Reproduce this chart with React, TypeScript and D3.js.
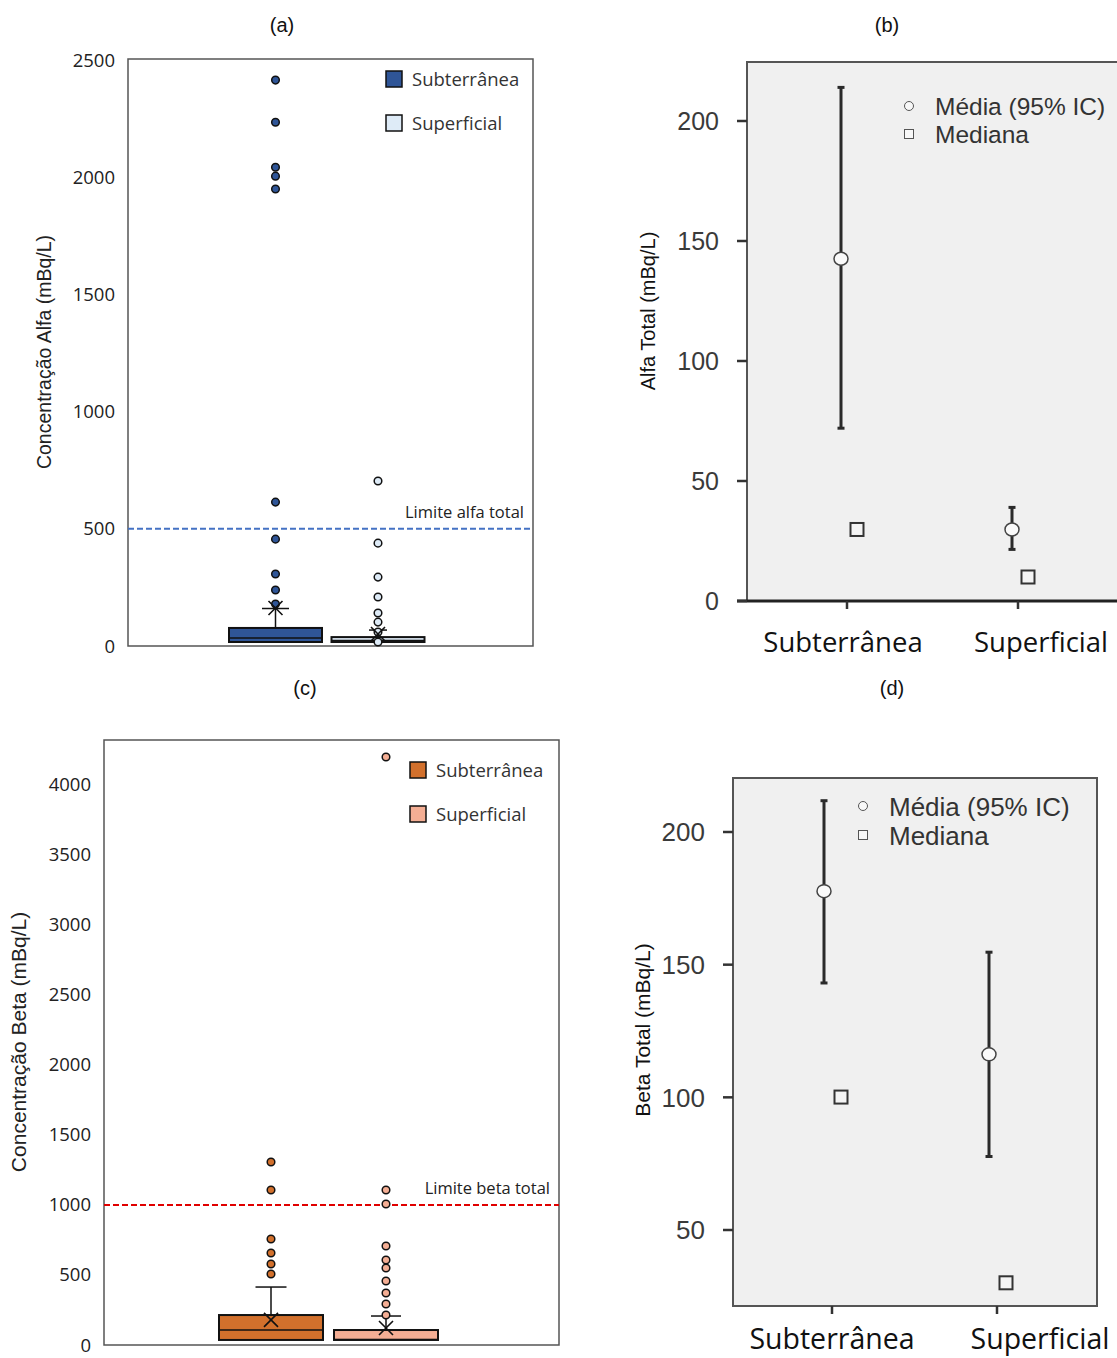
import React from "react";
import * as d3 from "d3";

const groups = ["Subterrânea", "Superficial"];

// (a) Alpha box plot
const alphaQ1 = [17, 17];
const alphaMedian = [34, 24];
const alphaQ3 = [77, 38];
const alphaWhiskerHi = [160, 68];
const alphaMean = [162, 51];
const alphaOutSub = [2415, 2235, 2043, 2005, 1950, 614, 456, 307, 239, 179];
const alphaOutSup = [704, 439, 294, 209, 141, 102, 60, 17];
const alphaTicks = [0, 500, 1000, 1500, 2000, 2500];
const alphaLimit = 500;

// (c) Beta box plot
const betaQ1 = [36, 36];
const betaMedian = [107, 40];
const betaQ3 = [214, 107];
const betaWhiskerHi = [414, 207];
const betaMean = [179, 121];
const betaOutSub = [1307, 1107, 757, 657, 579, 507];
const betaOutSup = [4200, 1107, 1007, 707, 607, 550, 457, 371, 293, 214];
const betaTicks = [0, 500, 1000, 1500, 2000, 2500, 3000, 3500, 4000];
const betaLimit = 1000;

// (b) Alpha mean CI
const alphaCIMean = [142.6, 29.8];
const alphaCILow = [72, 21.5];
const alphaCIHigh = [214, 39];
const alphaCIMedian = [29.8, 10];
const alphaCITicks = [0, 50, 100, 150, 200];

// (d) Beta mean CI
const betaCIMean = [177.7, 116.2];
const betaCILow = [143.1, 77.7];
const betaCIHigh = [211.8, 154.7];
const betaCIMedian = [100.1, 30.1];
const betaCITicks = [50, 100, 150, 200];

const subColorA = ["#2F5597", "#DEEBF7"];
const subColorC = ["#D2702C", "#F4AE94"];

const calib = "'Open Sans', 'Liberation Sans', sans-serif";
const arial = "'Liberation Sans', Arial, sans-serif";

function BoxPanel(props: any) {
  const { left, right, top, bottom, yDomainMax, centers, boxW, q1, med, q3, whi, mean, outs, colors, ticks, limit, limitColor, limitLabel, title, titleX, titleY, titleFont, legendX, legendY, capW } = props;
  const y = d3.scaleLinear().domain([0, yDomainMax]).range([bottom, top]);
  const x = d3.scalePoint().domain(groups).range(centers);
  return (
    <g>
      <rect x={left} y={top} width={right - left} height={bottom - top} fill="white" stroke="#555" strokeWidth={1.5} />
      {ticks.map((t: number) => (
        <text key={t} x={left - 13} y={y(t) + 6.5} textAnchor="end" fontFamily={calib} fontSize={18.5} fill="#222">{t}</text>
      ))}
      <text transform={`translate(${titleX},${titleY}) rotate(-90)`} textAnchor="middle" fontFamily={arial} fontSize={titleFont} fill="#222">{title}</text>
      <line x1={left} x2={right} y1={y(limit)} y2={y(limit)} stroke={limitColor} strokeWidth={2} strokeDasharray="6,3" />
      <text x={right - 9} y={y(limit) - 11} textAnchor="end" fontFamily={calib} fontSize={16.5} fill="#222">{limitLabel}</text>
      {groups.map((g, i) => {
        const cx = x(g) as number;
        return (
          <g key={g}>
            <line x1={cx} x2={cx} y1={y(q3[i])} y2={y(whi[i])} stroke="#111" strokeWidth={1.5} />
            <line x1={cx - capW[i] / 2} x2={cx + capW[i] / 2} y1={y(whi[i])} y2={y(whi[i])} stroke="#111" strokeWidth={1.5} />
            <rect x={cx - boxW / 2} y={y(q3[i])} width={boxW} height={y(q1[i]) - y(q3[i])} fill={colors[i]} stroke="#111" strokeWidth={2} />
            <line x1={cx - boxW / 2} x2={cx + boxW / 2} y1={y(med[i])} y2={y(med[i])} stroke="#111" strokeWidth={1.5} />
            {outs[i].map((v: number, k: number) => (
              <circle key={k} cx={cx} cy={y(v)} r={3.8} fill={colors[i]} stroke="#111" strokeWidth={1.5} />
            ))}
            <path d={`M${cx - 7},${y(mean[i]) - 7}L${cx + 7},${y(mean[i]) + 7}M${cx - 7},${y(mean[i]) + 7}L${cx + 7},${y(mean[i]) - 7}`} stroke="#111" strokeWidth={1.6} />
          </g>
        );
      })}
      {groups.map((g, i) => (
        <g key={g}>
          <rect x={legendX} y={legendY + i * 44} width={16} height={16} fill={colors[i]} stroke="#111" strokeWidth={1.5} />
          <text x={legendX + 26} y={legendY + i * 44 + 14.5} fontFamily={calib} fontSize={18.5} fill="#333">{g}</text>
        </g>
      ))}
    </g>
  );
}

function CIPanel(props: any) {
  const { left, right, top, bottom, yDomain, yRange, ticks, xs, mean, lo, hi, med, title, titleX, titleY, titleFont, legendX, legendY, tickFont, labelFont, labelY, labelXs, meanOff, medOff, thickAxis, legFont, legGap } = props;
  const y = d3.scaleLinear().domain(yDomain).range(yRange);
  const x = d3.scalePoint().domain(groups).range(xs);
  return (
    <g>
      <rect x={left} y={top} width={right - left} height={bottom - top} fill="#F0F0F0" stroke="#555" strokeWidth={2} />
      {thickAxis && <line x1={left - 10} x2={1117} y1={bottom} y2={bottom} stroke="#222" strokeWidth={3} />}
      {ticks.map((t: number) => (
        <g key={t}>
          <line x1={left - 10} x2={left} y1={y(t)} y2={y(t)} stroke="#333" strokeWidth={2.5} />
          <text x={left - 28} y={y(t) + tickFont * 0.36} textAnchor="end" fontFamily={arial} fontSize={tickFont} fill="#3a3a3a">{t}</text>
        </g>
      ))}
      {groups.map((g, i) => (
        <g key={g}>
          <line x1={x(g) as number} x2={x(g) as number} y1={bottom} y2={bottom + 8} stroke="#333" strokeWidth={2.5} />
          <text x={labelXs[i]} y={labelY} textAnchor="middle" fontFamily={calib} fontSize={labelFont} fill="#111">{g}</text>
        </g>
      ))}
      <text transform={`translate(${titleX},${titleY}) rotate(-90)`} textAnchor="middle" fontFamily={arial} fontSize={titleFont} fill="#111">{title}</text>
      {groups.map((g, i) => {
        const cx = (x(g) as number) + meanOff;
        const mx = (x(g) as number) + medOff;
        return (
          <g key={g}>
            <line x1={cx} x2={cx} y1={y(lo[i])} y2={y(hi[i])} stroke="#2a2a2a" strokeWidth={3} />
            <line x1={cx - 3.5} x2={cx + 3.5} y1={y(lo[i])} y2={y(lo[i])} stroke="#2a2a2a" strokeWidth={3} />
            <line x1={cx - 3.5} x2={cx + 3.5} y1={y(hi[i])} y2={y(hi[i])} stroke="#2a2a2a" strokeWidth={3} />
            <ellipse cx={cx} cy={y(mean[i])} rx={7} ry={6.5} fill="#FAFAFA" stroke="#444" strokeWidth={1.5} />
            <rect x={mx - 6.5} y={y(med[i]) - 6.5} width={13} height={13} fill="#F4F4F4" stroke="#333" strokeWidth={2} />
          </g>
        );
      })}
      <circle cx={legendX} cy={legendY} r={4.5} fill="#F8F8F8" stroke="#555" strokeWidth={1} />
      <text x={legendX + 26} y={legendY + legFont * 0.37} fontFamily={arial} fontSize={legFont} fill="#333">Média (95% IC)</text>
      <rect x={legendX - 4.5} y={legendY + legGap - 4.5} width={9} height={9} fill="#F8F8F8" stroke="#555" strokeWidth={1} />
      <text x={legendX + 26} y={legendY + legGap + legFont * 0.37} fontFamily={arial} fontSize={legFont} fill="#333">Mediana</text>
    </g>
  );
}

export default function App() {
  return (
    <svg width={1117} height={1358} style={{ position: "absolute", left: 0, top: 0, background: "white" }}>
      <text x={282} y={32} textAnchor="middle" fontFamily={arial} fontSize={20} fill="#111">(a)</text>
      <text x={887} y={32} textAnchor="middle" fontFamily={arial} fontSize={20} fill="#111">(b)</text>
      <text x={305} y={695} textAnchor="middle" fontFamily={arial} fontSize={20} fill="#111">(c)</text>
      <text x={892} y={695} textAnchor="middle" fontFamily={arial} fontSize={20} fill="#111">(d)</text>

      <BoxPanel left={128} right={533} top={59} bottom={646} yDomainMax={2505} centers={[275.5, 378]} boxW={93}
        q1={alphaQ1} med={alphaMedian} q3={alphaQ3} whi={alphaWhiskerHi} mean={alphaMean} outs={[alphaOutSub, alphaOutSup]}
        colors={subColorA} ticks={alphaTicks} limit={alphaLimit} limitColor="#4472C4" limitLabel="Limite alfa total"
        title="Concentração Alfa  (mBq/L)" titleX={51} titleY={352} titleFont={19.5} legendX={386} legendY={71} capW={[27, 18]} />

      <BoxPanel left={104} right={559} top={740} bottom={1345} yDomainMax={4321} centers={[271, 386]} boxW={104}
        q1={betaQ1} med={betaMedian} q3={betaQ3} whi={betaWhiskerHi} mean={betaMean} outs={[betaOutSub, betaOutSup]}
        colors={subColorC} ticks={betaTicks} limit={betaLimit} limitColor="#E00000" limitLabel="Limite beta total"
        title="Concentração Beta  (mBq/L)" titleX={26} titleY={1042} titleFont={21} legendX={410} legendY={762} capW={[31, 30]} />

      <CIPanel left={747} right={1125} top={62} bottom={601} yDomain={[0, 200]} yRange={[601, 121]} ticks={alphaCITicks}
        xs={[847, 1018]} mean={alphaCIMean} lo={alphaCILow} hi={alphaCIHigh} med={alphaCIMedian}
        title="Alfa Total (mBq/L)" titleX={655} titleY={311} titleFont={20} legendX={909} legendY={106} tickFont={25} labelFont={27.5}
        labelY={652} labelXs={[843, 1041]} meanOff={-6} medOff={10} thickAxis={true} legFont={24.5} legGap={28} />

      <CIPanel left={733} right={1097} top={778} bottom={1306} yDomain={[50, 200]} yRange={[1230, 832]} ticks={betaCITicks}
        xs={[832, 997]} mean={betaCIMean} lo={betaCILow} hi={betaCIHigh} med={betaCIMedian}
        title="Beta Total (mBq/L)" titleX={650} titleY={1030} titleFont={21} legendX={863} legendY={806} tickFont={26} labelFont={28.5}
        labelY={1349} labelXs={[832, 1040]} meanOff={-8} medOff={9} thickAxis={false} legFont={26} legGap={29} />
    </svg>
  );
}
